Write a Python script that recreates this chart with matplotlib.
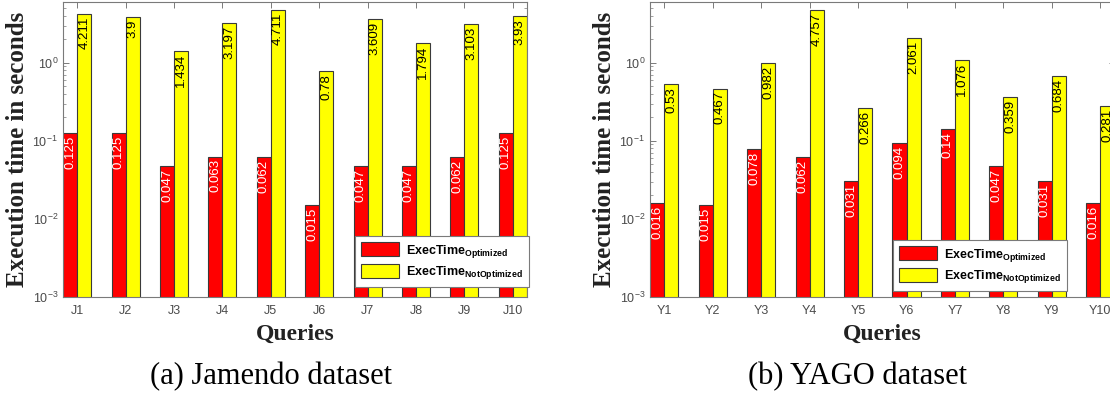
import matplotlib
matplotlib.use("Agg")
import matplotlib.pyplot as plt
from matplotlib.ticker import LogLocator
import numpy as np

matplotlib.rcParams.update({
    'font.family': 'Liberation Sans',
    'mathtext.fontset': 'custom',
    'mathtext.rm': 'Liberation Sans:bold',
    'mathtext.it': 'Liberation Sans:bold',
    'mathtext.bf': 'Liberation Sans:bold',
})

jamendo_queries = ["J1", "J2", "J3", "J4", "J5", "J6", "J7", "J8", "J9", "J10"]
jamendo_opt     = [0.125, 0.125, 0.047, 0.063, 0.062, 0.015, 0.047, 0.047, 0.062, 0.125]
jamendo_notopt  = [4.211, 3.9, 1.434, 3.197, 4.711, 0.78, 3.609, 1.794, 3.103, 3.93]

yago_queries = ["Y1", "Y2", "Y3", "Y4", "Y5", "Y6", "Y7", "Y8", "Y9", "Y10"]
yago_opt     = [0.016, 0.015, 0.078, 0.062, 0.031, 0.094, 0.14, 0.047, 0.031, 0.016]
yago_notopt  = [0.53, 0.467, 0.982, 4.757, 0.266, 2.061, 1.076, 0.359, 0.684, 0.281]

RED = "#ff0000"
YELLOW = "#ffff00"
EDGE = "#3a3a3a"
AXCOL = "#7a7a7a"
TICKCOL = "#4a4a4a"

W, H = 1110, 393
fig = plt.figure(figsize=(W / 100, H / 100), dpi=100)


def draw(rect, queries, opt, notopt, caption, legend_anchor):
    ax = fig.add_axes(rect)
    x = np.arange(1, len(queries) + 1)
    width = 0.29
    ax.bar(x - width / 2, opt, width, color=RED, edgecolor=EDGE, linewidth=0.8,
           label=r"$\mathrm{ExecTime}_{\mathrm{Optimized}}$", zorder=2)
    ax.bar(x + width / 2, notopt, width, color=YELLOW, edgecolor=EDGE, linewidth=0.8,
           label=r"$\mathrm{ExecTime}_{\mathrm{NotOptimized}}$", zorder=2)

    # value labels, rotated, just inside the top of each bar
    for xi, v in zip(x - width / 2, opt):
        ax.annotate(f"{v:g}", (xi, v), xytext=(0, -2), textcoords="offset points",
                    rotation=90, ha="center", va="top", color="white", fontsize=9.5,
                    annotation_clip=False)
    for xi, v in zip(x + width / 2, notopt):
        ax.annotate(f"{v:g}", (xi, v), xytext=(0, -2), textcoords="offset points",
                    rotation=90, ha="center", va="top", color="black", fontsize=9.5,
                    annotation_clip=False)

    ax.set_yscale("log")
    ax.set_ylim(1e-3, 6)
    ax.set_xlim(1 - width - 0.005, len(queries) + width + 0.005)
    ax.set_xticks(x)
    ax.set_xticklabels(queries)
    ax.yaxis.set_major_locator(LogLocator(base=10, numticks=10))
    ax.yaxis.set_minor_locator(LogLocator(base=10, subs=np.arange(2, 10), numticks=20))

    ax.tick_params(which="both", direction="in", top=True, right=True, colors=AXCOL,
                   labelcolor=TICKCOL, labelsize=9)
    ax.tick_params(which="major", length=4, width=0.7)
    ax.tick_params(which="minor", length=2, width=0.5)
    ax.tick_params(axis="x", which="minor", bottom=False, top=False)
    ax.tick_params(axis="x", pad=6)
    for s in ax.spines.values():
        s.set_color(AXCOL)
        s.set_linewidth(0.8)

    ax.set_ylabel("Execution time in seconds", family="Liberation Serif",
                  fontweight="bold", fontsize=18, color="#222222")
    ax.yaxis.set_label_coords(-0.074, 0.5)
    ax.set_xlabel("Queries", family="Liberation Serif", fontweight="bold",
                  fontsize=17, color="#222222")
    ax.xaxis.set_label_coords(0.5, -0.09)

    leg = ax.legend(loc="upper left", bbox_to_anchor=legend_anchor,
                    bbox_transform=fig.transFigure, borderaxespad=0, fontsize=9,
                    fancybox=False, framealpha=1, edgecolor=AXCOL,
                    handlelength=3.0, handleheight=1.35, handletextpad=0.6,
                    labelspacing=0.35, borderpad=0.5)
    leg.get_frame().set_linewidth(0.8)
    for h in leg.legend_handles:
        h.set_edgecolor(EDGE)

    pos = ax.get_position()
    fig.text(pos.x0 + pos.width / 2 - 0.022, 1 - 377 / H, caption,
             family="Liberation Serif", fontsize=22, ha="center", va="center")
    return ax


draw([63 / W, 1 - 297 / H, 464 / W, 295 / H], jamendo_queries, jamendo_opt,
     jamendo_notopt, "(a) Jamendo dataset", (355 / W, 1 - 236 / H))
draw([650 / W, 1 - 297 / H, 464.6 / W, 295 / H], yago_queries, yago_opt,
     yago_notopt, "(b) YAGO dataset", (893 / W, 1 - 240 / H))

fig.savefig("out.png", dpi=100)
